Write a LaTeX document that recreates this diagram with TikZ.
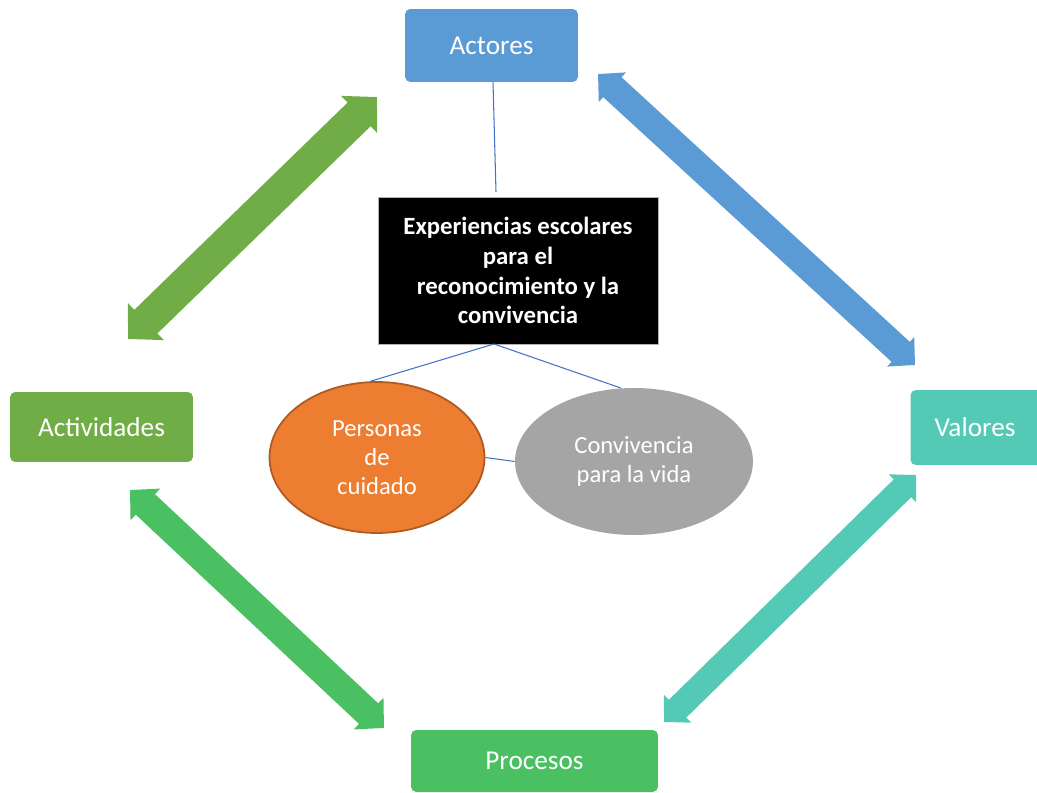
\documentclass[tikz,border=0pt]{standalone}
\usepackage{fontspec}
\setmainfont{Carlito}
\usetikzlibrary{arrows.meta,shapes.geometric}
\definecolor{actblue}{RGB}{91,155,213}
\definecolor{actgreen}{RGB}{112,173,71}
\definecolor{prograin}{RGB}{75,192,99}
\definecolor{valteal}{RGB}{84,201,182}
\definecolor{cuidorange}{RGB}{237,125,49}
\definecolor{cuidedge}{RGB}{174,90,33}
\definecolor{convgray}{RGB}{165,165,165}
\definecolor{linkblue}{RGB}{68,114,196}
\tikzset{
  box/.style={rounded corners=3pt,text=white,inner sep=0pt,
    font=\fontsize{15.5}{18}\selectfont},
  oval/.style={ellipse,inner sep=0pt,text=white,align=center,
    font=\fontsize{14}{16.5}\selectfont},
  link/.style={draw=linkblue,line width=0.6pt},
  dbl/.style n args={3}{line width=#1,
    {Triangle[width=#2,length=#3]}-{Triangle[width=#2,length=#3]}}
}
\begin{document}
\begin{tikzpicture}[x=0.02cm,y=-0.02cm]
  \useasboundingbox (0,0) rectangle (1037,793);
  % the four boxes
  \node[box,fill=actblue,minimum width=3.46cm,minimum height=1.46cm] (act) at (491.5,45.5) {Actores};
  \node[box,fill=valteal,minimum width=2.9cm,minimum height=1.5cm] (val) at (983,427.5) {};
  \node[text=white,font=\fontsize{15.5}{18}\selectfont] (valtxt) at (975,427.5) {Valores};
  \node[box,fill=actgreen,minimum width=3.66cm,minimum height=1.4cm] (activ) at (101.5,427) {Actividades};
  \node[box,fill=prograin,minimum width=4.94cm,minimum height=1.24cm] (proc) at (534.5,761) {Procesos};
  % centre
  \node[fill=black,draw=gray!60,line width=0.5pt,minimum width=5.6cm,minimum height=2.94cm,
    text=white,align=center,font=\bfseries\fontsize{14.1}{17}\selectfont] (exp) at (518,270.5)
    {Experiencias escolares\\para el\\reconocimiento y la\\convivencia};
  \node[oval,fill=cuidorange,draw=cuidedge,line width=1pt,minimum width=4.3cm,minimum height=3.02cm] (pers) at (377,457.5)
    {Personas\\de\\cuidado};
  \node[oval,fill=convgray,minimum width=4.76cm,minimum height=2.94cm] (conv) at (634,461.5)
    {Convivencia\\para la vida};
  % thin links
  \draw[link] (act.south -| 493,0) -- (496,192);
  \coordinate (hub) at (494,344);
  \draw[link] (hub) -- (pers.95);
  \draw[link] (hub) -- (conv.100);
  \draw[link] (pers.east) -- (conv.west);
  % big double arrows
  \coordinate (a1) at (377,97);  \coordinate (a2) at (128,339);
  \coordinate (b1) at (598,74);  \coordinate (b2) at (915,365);
  \coordinate (c1) at (130,490); \coordinate (c2) at (384,728);
  \coordinate (d1) at (916,475); \coordinate (d2) at (664,722);
  \draw[actgreen,dbl={18.8pt}{28.5pt}{14.2pt}] (a2) -- (a1);
  \draw[actblue,dbl={15.4pt}{22.2pt}{11.1pt}] (b1) -- (b2);
  \draw[prograin,dbl={16pt}{24pt}{12pt}] (c1) -- (c2);
  \draw[valteal,dbl={14.2pt}{21.6pt}{10.8pt}] (d2) -- (d1);
\end{tikzpicture}
\end{document}
